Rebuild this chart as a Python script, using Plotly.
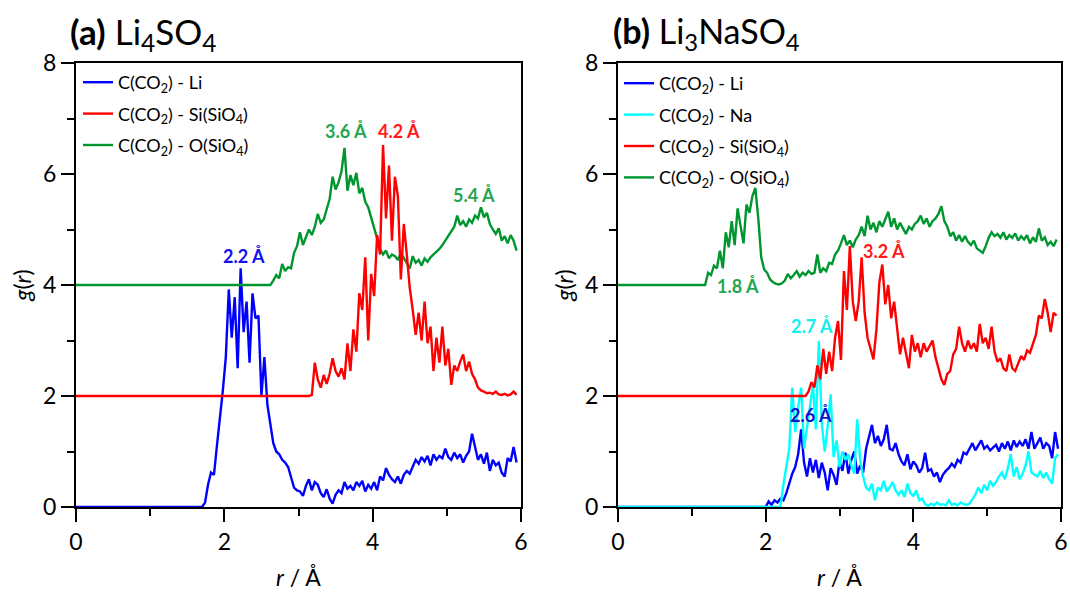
import numpy as np
import plotly.graph_objects as go

STEP = 0.04

# ---------------- (a) Li4SO4 ----------------
a_li_start = 1.70
a_li = [0.00, 0.08, 0.40, 0.62, 0.58, 1.10, 1.55, 2.10, 2.70, 3.92,
        3.05, 3.78, 2.50, 4.30, 3.15, 3.70, 2.60, 3.85, 3.40, 3.45,
        2.00, 2.70, 1.85, 1.50, 1.15, 1.00, 0.95, 0.85, 0.80, 0.72,
        0.52, 0.35, 0.30, 0.28, 0.20, 0.38, 0.50, 0.30, 0.45, 0.40,
        0.25, 0.18, 0.32, 0.15, 0.06, 0.22, 0.30, 0.25, 0.45, 0.33,
        0.38, 0.30, 0.45, 0.38, 0.47, 0.28, 0.40, 0.33, 0.45, 0.30,
        0.55, 0.48, 0.70, 0.58, 0.50, 0.45, 0.55, 0.42, 0.58, 0.65,
        0.60, 0.72, 0.85, 0.78, 0.90, 0.82, 0.92, 0.75, 0.95, 0.85,
        0.92, 0.88, 1.05, 0.90, 0.85, 0.98, 0.88, 0.95, 0.80, 0.92,
        1.00, 1.32, 1.05, 0.85, 0.95, 0.78, 0.98, 0.65, 0.85, 0.75,
        0.80, 0.62, 0.55, 0.88, 0.82, 1.08, 0.80]

a_si_start = 3.14
a_si = [2.00, 2.02, 2.60, 2.30, 2.15, 2.38, 2.22, 2.40, 2.68, 2.45,
        2.35, 2.50, 2.30, 2.95, 2.45, 3.20, 2.80, 3.85, 3.55, 4.50,
        3.00, 4.20, 3.80, 4.90, 4.55, 6.52, 5.20, 6.15, 4.80, 5.95,
        5.60, 4.10, 5.10, 4.55, 3.95, 3.55, 3.10, 3.50, 3.00, 3.70,
        2.95, 3.25, 2.45, 3.05, 2.60, 3.25, 2.55, 2.85, 2.20, 2.55,
        2.45, 2.62, 2.75, 2.45, 2.62, 2.40, 2.30, 2.15, 2.10, 2.08,
        2.05, 2.06, 2.04, 2.08, 2.03, 2.02, 2.04, 2.01, 2.03, 2.08,
        2.02]

a_o_start = 2.62
a_o = [4.00, 4.08, 4.18, 4.12, 4.38, 4.25, 4.32, 4.30, 4.58, 4.70,
       4.95, 4.72, 4.85, 5.00, 4.90, 5.05, 5.28, 5.12, 5.18, 5.35,
       5.55, 5.95, 5.72, 5.85, 6.05, 6.47, 5.70, 5.98, 5.80, 6.02,
       5.65, 5.75, 5.50, 5.40, 5.20, 5.00, 4.85, 4.65, 4.55, 4.62,
       4.48, 4.55, 4.52, 4.45, 4.58, 4.48, 4.40, 4.30, 4.52, 4.40,
       4.45, 4.35, 4.48, 4.42, 4.50, 4.55, 4.60, 4.65, 4.72, 4.80,
       4.90, 4.98, 5.05, 5.25, 5.08, 5.15, 5.05, 5.18, 5.12, 5.25,
       5.20, 5.40, 5.22, 5.30, 5.10, 5.00, 4.92, 5.02, 4.80, 4.88,
       4.75, 4.90, 4.80, 4.62]

# ---------------- (b) Li3NaSO4 ----------------
b_li_start = 2.00
b_li = [0.00, 0.10, 0.04, 0.12, 0.08, 0.15, 0.12, 0.25, 0.45, 0.60,
        0.72, 0.95, 1.40, 0.80, 0.55, 0.88, 0.62, 0.85, 0.52, 0.80,
        0.62, 0.30, 0.70, 0.58, 0.40, 0.82, 0.65, 0.98, 0.60, 0.85,
        1.00, 0.60, 0.75, 0.62, 1.05, 1.25, 1.48, 1.15, 1.28, 1.10,
        1.22, 1.48, 1.05, 1.02, 1.15, 0.95, 0.82, 0.75, 0.95, 0.68,
        0.82, 0.75, 0.62, 0.70, 0.98, 0.65, 0.68, 0.55, 0.62, 0.45,
        0.58, 0.65, 0.70, 0.78, 0.72, 0.85, 0.80, 0.98, 0.95, 1.05,
        1.15, 1.02, 1.12, 1.20, 1.05, 1.10, 1.02, 1.08, 1.12, 1.00,
        1.15, 1.05, 1.18, 1.02, 1.20, 1.08, 1.18, 1.10, 1.22, 1.05,
        1.35, 1.05, 1.15, 1.25, 1.05, 1.15, 1.10, 0.88, 1.35, 1.05]

b_na_start = 2.20
b_na = [0.00, 0.40, 0.72, 1.05, 2.15, 1.35, 1.80, 2.15, 1.05, 1.45,
        1.80, 2.20, 1.40, 2.99, 1.50, 1.00, 1.45, 2.03, 0.90, 1.20,
        0.72, 1.00, 0.85, 0.95, 0.75, 0.60, 1.58, 0.85, 0.55, 0.35,
        0.30, 0.42, 0.12, 0.35, 0.30, 0.47, 0.28, 0.35, 0.45, 0.30,
        0.22, 0.30, 0.18, 0.42, 0.25, 0.20, 0.30, 0.12, 0.15, 0.05,
        0.02, 0.06, 0.03, 0.08, 0.04, 0.05, 0.03, 0.12, 0.04, 0.06,
        0.03, 0.08, 0.05, 0.04, 0.06, 0.15, 0.22, 0.35, 0.25, 0.40,
        0.30, 0.47, 0.38, 0.45, 0.55, 0.62, 0.50, 0.70, 0.95, 0.55,
        0.72, 0.50, 0.60, 0.75, 1.00, 0.62, 0.58, 0.55, 0.65, 0.52,
        0.62, 0.50, 0.42, 0.88, 0.95]

b_si_start = 2.54
b_si = [2.00, 2.08, 2.25, 2.15, 2.55, 2.30, 2.85, 2.40, 2.80, 2.45,
        3.05, 3.35, 2.65, 4.25, 3.55, 4.70, 3.70, 3.35, 3.70, 4.50,
        3.50, 3.05, 2.85, 2.66, 3.20, 4.05, 4.37, 3.65, 4.00, 3.40,
        3.70, 3.25, 2.75, 3.05, 2.80, 2.50, 3.10, 2.80, 2.95, 2.70,
        2.95, 2.80, 2.90, 3.00, 2.70, 2.50, 2.30, 2.20, 2.40, 2.45,
        2.75, 2.85, 3.25, 2.95, 2.80, 3.00, 2.85, 2.95, 2.80, 3.30,
        2.95, 3.05, 2.85, 3.25, 2.80, 2.62, 2.68, 2.50, 2.45, 2.75,
        2.50, 2.45, 2.60, 2.72, 2.65, 2.82, 2.78, 2.95, 3.10, 3.45,
        3.40, 3.75, 3.50, 3.15, 3.50, 3.45]

b_o_start = 1.18
b_o = [4.00, 4.22, 4.18, 4.35, 4.30, 4.62, 4.30, 4.95, 4.68, 5.15,
       4.72, 5.38, 5.08, 4.75, 5.45, 5.30, 5.60, 5.75, 5.20, 4.50,
       4.28, 4.22, 4.10, 4.05, 4.02, 4.01, 4.03, 4.08, 4.20, 4.12,
       4.18, 4.25, 4.15, 4.22, 4.18, 4.25, 4.20, 4.22, 4.55, 4.22,
       4.30, 4.25, 4.40, 4.38, 4.55, 4.62, 4.75, 4.90, 4.72, 4.80,
       4.68, 4.82, 4.90, 5.05, 4.88, 5.25, 5.00, 5.12, 4.95, 5.15,
       5.05, 5.18, 5.32, 5.05, 5.20, 5.00, 5.12, 5.02, 4.92, 5.05,
       5.00, 5.10, 5.15, 5.25, 5.10, 5.20, 5.05, 5.15, 5.20, 5.28,
       5.42, 5.15, 5.05, 4.88, 4.95, 4.80, 4.90, 4.78, 4.88, 4.78,
       4.72, 4.80, 4.66, 4.62, 4.58, 4.70, 4.85, 4.95, 4.88, 4.92,
       4.85, 4.95, 4.82, 4.90, 4.85, 4.93, 4.80, 4.88, 4.82, 4.90,
       4.75, 4.86, 4.78, 5.02, 4.80, 4.86, 4.72, 4.78, 4.70, 4.82]

# peak labels: (text, r, g, colour)
a_labels = [("2.2 Å", 2.26, 4.52, "#1010F0"),
            ("3.6 Å", 3.64, 6.78, "#1FA64F"),
            ("4.2 Å", 4.36, 6.78, "#FF1A1A"),
            ("5.4 Å", 5.36, 5.62, "#1FA64F")]
b_labels = [("1.8 Å", 1.62, 3.98, "#1FA64F"),
            ("3.2 Å", 3.60, 4.62, "#FF1A1A"),
            ("2.7 Å", 2.63, 3.27, "#11EEEE"),
            ("2.6 Å", 2.62, 1.65, "#1010D0")]

BLUE, RED, GREEN, CYAN = "#0000FF", "#FF0000", "#00962F", "#00FFFF"
FONT = "Lato"


def series(start, vals):
    r = [0.0] + list(np.round(start + STEP * np.arange(len(vals)), 2))
    return r, [vals[0]] + list(vals)


fig = go.Figure()


def add(start, vals, name, color, xa, ya, leg, rank):
    x, y = series(start, vals)
    fig.add_trace(go.Scatter(x=x, y=y, mode="lines", name=name,
                             line=dict(color=color, width=2.4),
                             xaxis=xa, yaxis=ya, legend=leg,
                             legendrank=rank, legendgroup=leg + str(rank)))


nm = lambda s: "C(CO<sub>2</sub>) - " + s

add(a_li_start, a_li, nm("Li"), BLUE, "x", "y", "legend", 1)
add(a_o_start, a_o, nm("O(SiO<sub>4</sub>)"), GREEN, "x", "y", "legend", 3)
add(a_si_start, a_si, nm("Si(SiO<sub>4</sub>)"), RED, "x", "y", "legend", 2)

add(b_li_start, b_li, nm("Li"), BLUE, "x2", "y2", "legend2", 1)
add(b_na_start, b_na, nm("Na"), CYAN, "x2", "y2", "legend2", 2)
add(b_o_start, b_o, nm("O(SiO<sub>4</sub>)"), GREEN, "x2", "y2", "legend2", 4)
add(b_si_start, b_si, nm("Si(SiO<sub>4</sub>)"), RED, "x2", "y2", "legend2", 3)

W, H = 1070, 592
L, R, T, B = 76, 1061, 63, 507          # outer plot box in pixels
PW, PH = R - L, B - T
xl = [0, (521 - L) / PW]
xr = [(618 - L) / PW, 1]


def px(xp):   # pixel x -> paper
    return (xp - L) / PW


def py(yp):   # pixel y -> paper
    return (B - yp) / PH


axis_common = dict(showline=True, mirror=True, linecolor="black", automargin=False,
                   linewidth=2, ticks="outside", ticklen=13, tickwidth=2,
                   tickcolor="black", showgrid=False, zeroline=False,
                   tickfont=dict(family=FONT, size=23, color="black"),
                   title_font=dict(family=FONT, size=23, color="black"))

minor = dict(ticks="outside", ticklen=7, tickwidth=2, tickcolor="black",
             dtick=1, tick0=0)
xaxis_kw = dict(axis_common, range=[0, 6], dtick=2, tick0=0, minor=minor,
                title=dict(text="<i>r</i> / Å", standoff=16))
yaxis_kw = dict(axis_common, range=[0, 8], dtick=2, tick0=0, minor=minor,
                title=dict(text="<i>g</i>(<i>r</i>)", standoff=5))

leg_common = dict(xanchor="left", yanchor="top", bgcolor="rgba(0,0,0,0)",
                  font=dict(family=FONT, size=18, color="black"),
                  tracegroupgap=5, traceorder="grouped", itemwidth=30)

fig.update_layout(
    width=W, height=H,
    margin=dict(l=L, r=W - R, t=T, b=H - B, autoexpand=False),
    paper_bgcolor="white", plot_bgcolor="white",
    font=dict(family=FONT, color="black"),
    xaxis=dict(xaxis_kw, domain=xl, anchor="y"),
    yaxis=dict(yaxis_kw, domain=[0, 1], anchor="x"),
    xaxis2=dict(xaxis_kw, domain=xr, anchor="y2"),
    yaxis2=dict(yaxis_kw, domain=[0, 1], anchor="x2"),
    legend=dict(leg_common, x=px(78), y=py(64)),
    legend2=dict(leg_common, x=px(619), y=py(65)),
    showlegend=True,
)

for txt, r, g, c in a_labels:
    fig.add_annotation(x=r, y=g, xref="x", yref="y", text="<b>" + txt + "</b>",
                       showarrow=False, font=dict(family=FONT, size=18, color=c))
for txt, r, g, c in b_labels:
    fig.add_annotation(x=r, y=g, xref="x2", yref="y2", text="<b>" + txt + "</b>",
                       showarrow=False, font=dict(family=FONT, size=18, color=c))

fig.add_annotation(x=px(68), y=py(33), xref="paper", yref="paper",
                   xanchor="left", yanchor="middle", showarrow=False,
                   text="<b>(a)</b> Li<sub>4</sub>SO<sub>4</sub>",
                   font=dict(family=FONT, size=35, color="black"))
fig.add_annotation(x=px(611), y=py(33), xref="paper", yref="paper",
                   xanchor="left", yanchor="middle", showarrow=False,
                   text="<b>(b)</b> Li<sub>3</sub>NaSO<sub>4</sub>",
                   font=dict(family=FONT, size=34, color="black"))

fig.write_html("out.html")
